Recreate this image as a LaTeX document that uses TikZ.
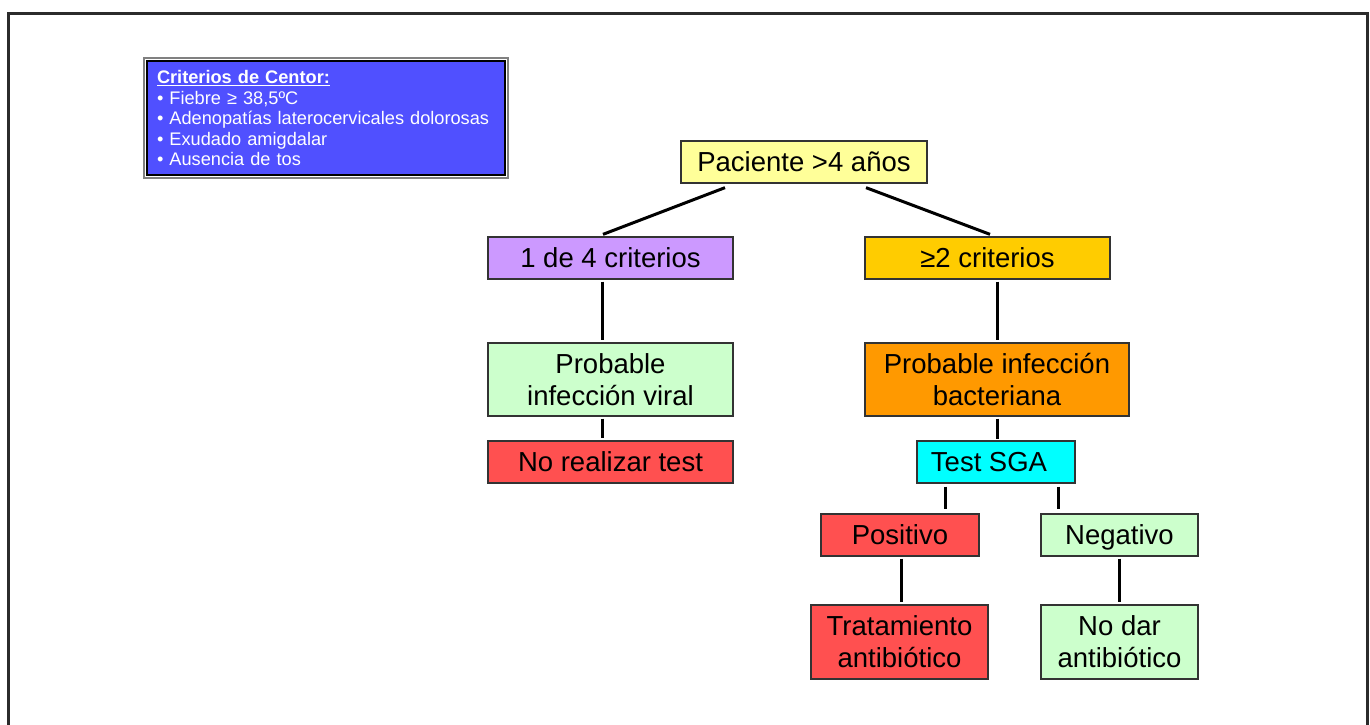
\documentclass[tikz,border=0pt]{standalone}
\usepackage{fontspec}
\setmainfont{Liberation Sans}
\definecolor{cyellow}{HTML}{FFFF99}
\definecolor{cpurple}{HTML}{CC99FF}
\definecolor{cgold}{HTML}{FFCC00}
\definecolor{cgreen}{HTML}{CCFFCC}
\definecolor{cred}{HTML}{FF5050}
\definecolor{corange}{HTML}{FF9900}
\definecolor{ccyan}{HTML}{00FFFF}
\definecolor{cblue}{HTML}{5050FF}
\definecolor{boxline}{HTML}{333333}
\definecolor{framecol}{HTML}{2B2B2B}
\begin{document}
\begin{tikzpicture}[x=1pt,y=-1pt,
  box/.style={draw=boxline, line width=1.3pt, minimum height=42pt, inner sep=0pt,
    align=center, font=\fontsize{27.5}{32}\selectfont},
  conn/.style={line width=3pt, black},
  legend/.style={draw=black, line width=1.5pt, fill=cblue, text=white, inner xsep=10pt,
    inner ysep=0pt, align=left, text width=338pt, minimum height=114pt,
    font=\fontsize{18.2}{20.5}\selectfont}]
\useasboundingbox (0,0) rectangle (1370,725);
\clip (0,0) rectangle (1370,725);
% frame
\draw[framecol, line width=3pt] (8.5,13.5) rectangle (1367.5,745);
% legend
\node[legend] (leg) at (326,118) {\textbf{\underline{Criterios de Centor:}}\\
  • Fiebre ≥ 38,5ºC\\
  • Adenopatías laterocervicales dolorosas\\
  • Exudado amigdalar\\
  • Ausencia de tos};
\draw[gray, line width=2pt] ([shift={(-2.2pt,2.2pt)}]leg.north west) rectangle ([shift={(2.2pt,-2.2pt)}]leg.south east);
% nodes
\node[box, fill=cyellow, minimum width=246pt] (pac) at (804,162) {Paciente >4 años};
\node[box, fill=cpurple, minimum width=245pt] (c1) at (610.5,258) {1 de 4 criterios};
\node[box, fill=cgold, minimum width=245pt] (c2) at (987.5,258) {≥2 criterios};
\node[box, fill=cgreen, minimum width=245pt, minimum height=73pt] (viral) at (610.5,379.5) {Probable\\infección viral};
\node[box, fill=cred, minimum width=245pt] (noreal) at (610.5,462) {No realizar test};
\node[box, fill=corange, minimum width=264pt, minimum height=73pt] (bact) at (997,379.5) {Probable infección\\bacteriana};
\node[box, fill=ccyan, minimum width=158pt] (test) at (996,462) {Test SGA\hspace{14pt}};
\node[box, fill=cred, minimum width=158pt] (pos) at (900,535) {Positivo};
\node[box, fill=cgreen, minimum width=157pt] (neg) at (1119.5,535) {\raisebox{0pt}[\height][0pt]{Negativo}};
\node[box, fill=cred, minimum width=177pt, minimum height=74pt] (trat) at (899.5,642) {Tratamiento\\antibiótico};
\node[box, fill=cgreen, minimum width=157pt, minimum height=74pt] (nodar) at (1119.5,642) {No dar\\antibiótico};
% connectors
\draw[conn] ([shift={(-79pt,-4pt)}]pac.south) -- ([shift={(-7.5pt,2pt)}]c1.north);
\draw[conn] ([shift={(62pt,-4pt)}]pac.south) -- ([shift={(2.5pt,2pt)}]c2.north);
\draw[conn] ([shift={(-8.5pt,-2pt)}]c1.south) -- ([shift={(-8.5pt,2pt)}]viral.north);
\draw[conn] ([shift={(9.5pt,-2pt)}]c2.south) -- ([shift={(0pt,2pt)}]bact.north);
\draw[conn] ([shift={(-8.5pt,-2pt)}]viral.south) -- ([shift={(-8.5pt,2pt)}]noreal.north);
\draw[conn] ([shift={(0pt,-2pt)}]bact.south) -- ([shift={(1pt,1pt)}]test.north);
\draw[conn] ([shift={(-51pt,-3pt)}]test.south) -- ([shift={(45pt,4pt)}]pos.north);
\draw[conn] ([shift={(62pt,-3pt)}]test.south) -- ([shift={(-61.5pt,4pt)}]neg.north);
\draw[conn] ([shift={(1pt,-2pt)}]pos.south) -- ([shift={(1.5pt,2pt)}]trat.north);
\draw[conn] ([shift={(0pt,-2pt)}]neg.south) -- ([shift={(0pt,2pt)}]nodar.north);
\end{tikzpicture}
\end{document}
